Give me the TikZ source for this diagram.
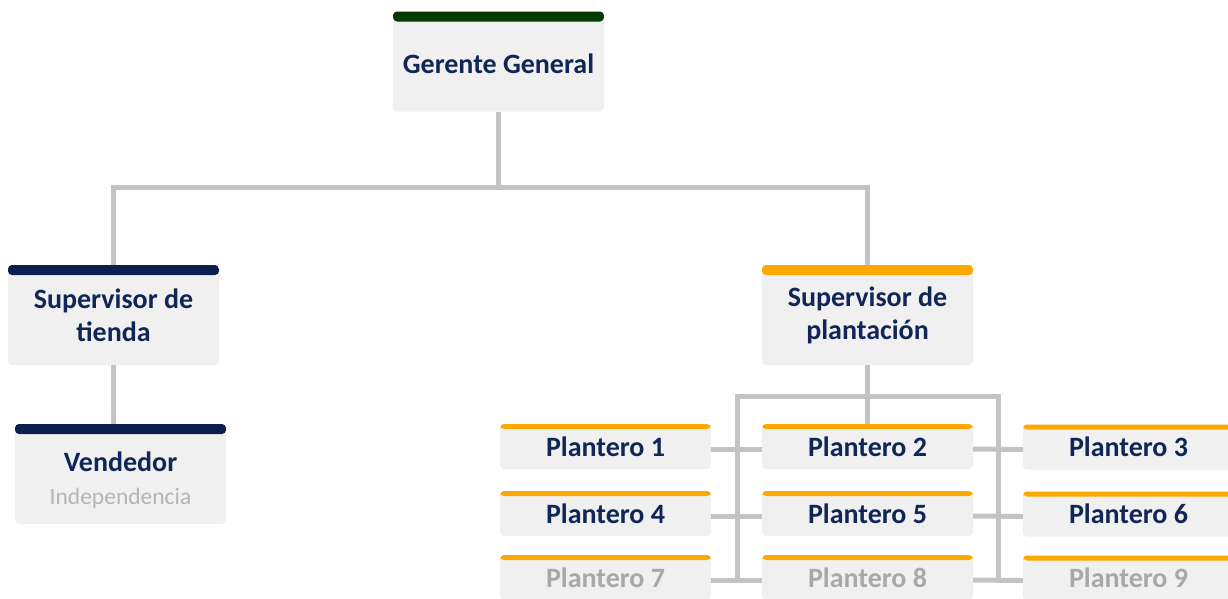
\documentclass[tikz,border=0pt]{standalone}
\usepackage{fontspec}
\setmainfont{Carlito}
\definecolor{boxgray}{HTML}{F0F0F0}
\definecolor{navy}{HTML}{0F2656}
\definecolor{barnavy}{HTML}{0B1F4E}
\definecolor{bargreen}{HTML}{023A02}
\definecolor{barorange}{HTML}{FFA800}
\definecolor{linegray}{HTML}{C3C3C3}
\definecolor{fadetext}{HTML}{A8A8A8}
\definecolor{subtext}{HTML}{B4B4B4}
\begin{document}
\begin{tikzpicture}[x=1pt,y=-1pt,
  box/.style={fill=boxgray, rounded corners=4pt, minimum width=211pt, inner sep=0pt,
    align=center, text=navy, font=\bfseries\fontsize{28}{33}\selectfont},
  bigbox/.style={box, minimum height=100pt},
  plbox/.style={box, minimum height=45pt},
  topbar/.style 2 args={path picture={\fill[#1] (path picture bounding box.north west)
      rectangle ([yshift=-#2]path picture bounding box.north east);}},
  faded/.style={text=fadetext},
  txt/.style={inner sep=0pt, align=center, text=navy, font=\bfseries\fontsize{28}{33}\selectfont},
  conn/.style={draw=linegray, line width=5pt}]
\useasboundingbox (0,0) rectangle (1228,598);

\node[bigbox, topbar={bargreen}{10pt}] (gg) at (498.5,61.5) {};
\node[txt] (ggt) at ([yshift=-2pt]gg.center) {Gerente General};
\node[bigbox, topbar={barnavy}{10pt}] (st) at (113.5,315) {Supervisor de\\tienda};
\node[bigbox, topbar={barnavy}{10pt}] (v) at (120.5,474) {};
\node[txt] (vt) at ([yshift=-6pt]v.center)
  {Vendedor\\[0pt]{\mdseries\fontsize{23.5}{28}\selectfont\color{subtext}Independencia}};
\node[bigbox, topbar={barorange}{10pt}] (sp) at (867.5,315) {Supervisor de\\plantación};

\node[plbox, topbar={barorange}{5pt}] (p1) at (605.5,446.5) {Plantero 1};
\node[plbox, topbar={barorange}{5pt}] (p2) at (867.5,446.5) {Plantero 2};
\node[plbox, topbar={barorange}{5pt}] (p3) at (1128.5,447) {Plantero 3};
\node[plbox, topbar={barorange}{5pt}] (p4) at (605.5,513.5) {Plantero 4};
\node[plbox, topbar={barorange}{5pt}] (p5) at (867.5,513.5) {Plantero 5};
\node[plbox, topbar={barorange}{5pt}] (p6) at (1128.5,514) {Plantero 6};
\node[plbox, topbar={barorange}{5pt}, faded] (p7) at (605.5,577.5) {Plantero 7};
\node[plbox, topbar={barorange}{5pt}, faded] (p8) at (867.5,577.5) {Plantero 8};
\node[plbox, topbar={barorange}{5pt}, faded] (p9) at (1128.5,578) {Plantero 9};

\coordinate (busy) at (0,187);
\coordinate (bl) at (737,396);
\coordinate (br) at (998,396);

\draw[conn] (gg.south) -- (gg.south |- busy);
\draw[conn] (st.north) -- (st.north |- busy) -- (sp.north |- busy) -- (sp.north);
\draw[conn] (st.south) -- (st.south |- v.north);
\draw[conn] (sp.south) -- (p2.north);
\draw[conn] ([yshift=-2.5pt]p7.east -| bl) -- (bl) -- (br) -- ([yshift=-2.5pt]p8.east -| br);
\foreach \a/\b in {p1/p2,p2/p3,p4/p5,p5/p6,p7/p8,p8/p9}{
  \draw[conn] ([yshift=-2.5pt]\a.east) -- ([yshift=-2.5pt]\b.west);
}
\end{tikzpicture}
\end{document}
